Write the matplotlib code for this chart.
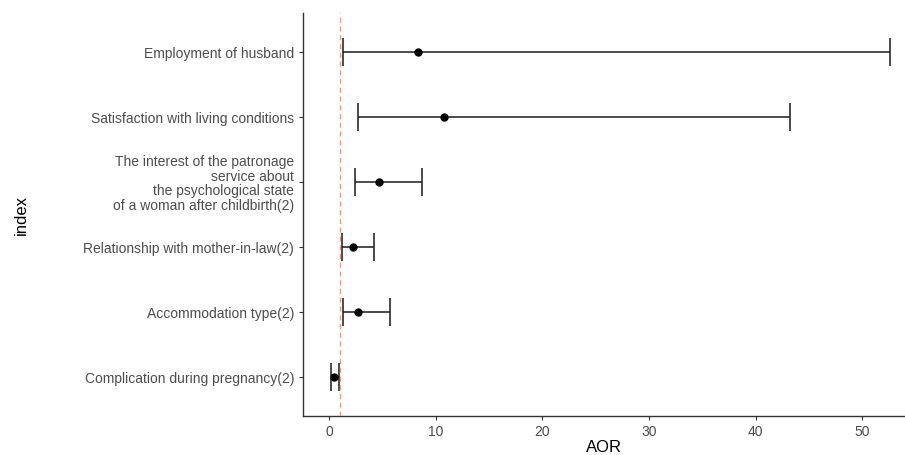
import matplotlib.pyplot as plt
import numpy as np

# data (bottom to top)
labels = ['Complication during pregnancy(2)',
          'Accommodation type(2)',
          'Relationship with mother-in-law(2)',
          'The interest of the patronage\nservice about\nthe psychological state\nof a woman after childbirth(2)',
          'Satisfaction with living conditions',
          'Employment of husband']
aor = [0.41, 2.72, 2.22, 4.66, 10.78, 8.35]
lower = [0.19, 1.28, 1.22, 2.44, 2.72, 1.25]
upper = [0.88, 5.66, 4.19, 8.75, 43.2, 52.6]

plt.rcParams['font.family'] = ['Liberation Sans', 'DejaVu Sans']

fig = plt.figure(figsize=(9.05, 4.55), dpi=100)
ax = fig.add_axes([0.335, 0.0857, 0.665, 0.8857])

y = np.arange(1, len(labels) + 1)
aor = np.array(aor)
err = [aor - np.array(lower), np.array(upper) - aor]
ax.errorbar(aor, y, xerr=err, fmt='o', color='black', ecolor='#1a1a1a',
            elinewidth=1.1, capsize=10, capthick=1.1, markersize=5)
ax.axvline(1, color='#F8766D', linestyle=(0, (4, 3)), linewidth=0.9, alpha=0.8)

ax.set_xlim(-2.44, 54.0)
ax.set_ylim(0.4, 6.6)
ax.set_xticks([0, 10, 20, 30, 40, 50])
ax.set_yticks(y)
ax.set_yticklabels(labels, ha='right', multialignment='right', linespacing=1.05)
ax.tick_params(colors='#333333', labelcolor='#4D4D4D', labelsize=10, length=3, width=0.8)

for s in ['top', 'right']:
    ax.spines[s].set_visible(False)
for s in ['left', 'bottom']:
    ax.spines[s].set_color('#333333')
    ax.spines[s].set_linewidth(1.0)

ax.set_xlabel('AOR', fontsize=12, labelpad=1)
ax.set_ylabel('index', fontsize=12)
ax.yaxis.set_label_coords(-0.455, 0.5)

fig.savefig('out.png', dpi=100)
